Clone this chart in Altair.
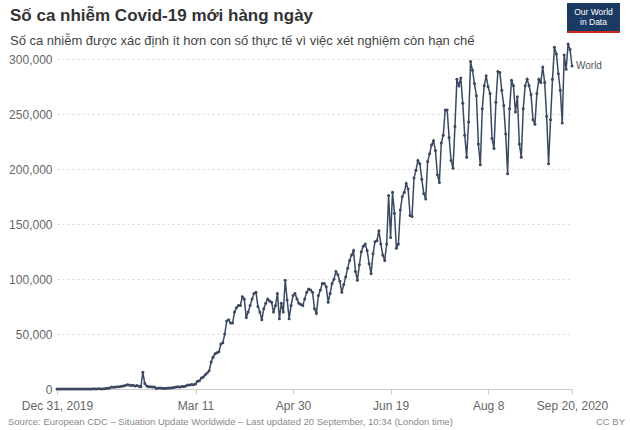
import altair as alt
import pandas as pd

# ---- data (daily new confirmed COVID-19 cases, World) ----
start_date = "2019-12-31"
cases_dec = [27]
cases_jan = [0, 0, 17, 0, 15, 0, 0, 0, 0, 0, 0, 0, 1, 1, 0, 1, 4, 17, 136, 20,
             153, 142, 97, 266, 453, 673, 797, 1767, 1480, 1755, 2005]
cases_feb = [2100, 2600, 2830, 3240, 3900, 3700, 3180, 3440, 2660, 3100, 2540, 2050,
             15150, 5100, 2650, 2100, 2050, 1900, 1760, 420, 1000, 900, 650, 430,
             600, 860, 830, 1100, 1300]
cases_mar = [1900, 2000, 1900, 2300, 2300, 2800, 3700, 3700, 4000, 3900, 4500, 7000,
             7500, 10000, 11000, 13000, 14500, 16500, 24500, 29000, 32000, 33000,
             34000, 41000, 42000, 50000, 62000, 63000, 60000, 60000, 70000]
cases_apr = [74000, 76000, 76000, 84000, 82000, 65000, 70000, 76000, 82000, 87000,
             88000, 75000, 70000, 63000, 73000, 78000, 82000, 80000, 79000, 70000,
             76000, 87000, 64000, 78000, 70000, 99000, 81000, 64000, 76000, 85000]
cases_may = [87000, 82000, 78000, 77000, 76000, 82000, 88000, 91000, 90000, 88000,
             73000, 69000, 85000, 90000, 96000, 96000, 93000, 79000, 87000, 96000,
             100000, 107000, 104000, 98000, 88000, 95000, 102000, 110000, 117000,
             122000, 126000]
cases_jun = [107000, 99000, 113000, 125000, 130000, 132000, 126000, 114000, 105000,
             123000, 134000, 135000, 144000, 132000, 122000, 117000, 132000, 176000,
             138000, 179000, 160000, 128000, 132000, 163000, 175000, 179000, 187000,
             182000, 158000, 157000]
cases_jul = [192000, 199000, 208000, 205000, 191000, 178000, 173000, 207000, 214000,
             222000, 226000, 217000, 195000, 188000, 224000, 231000, 254000, 254000,
             229000, 208000, 201000, 239000, 282000, 276000, 283000, 260000, 231000,
             211000, 243000, 298000, 290000]
cases_aug = [278000, 267000, 223000, 204000, 255000, 276000, 285000, 275000, 269000,
             228000, 219000, 261000, 289000, 288000, 272000, 258000, 232000, 196000,
             255000, 281000, 276000, 252000, 266000, 223000, 211000, 255000, 276000,
             282000, 276000, 268000, 245000]
cases_sep = [241000, 269000, 282000, 279000, 293000, 279000, 248000, 205000, 245000,
             282000, 311000, 305000, 287000, 272000, 242000, 304000, 291000, 314000,
             309000, 294000]

tick_days = [0, 71, 121, 171, 221, 264]
tick_labels = ["Dec 31, 2019", "Mar 11", "Apr 30", "Jun 19", "Aug 8", "Sep 20, 2020"]
y_ticks = [0, 50000, 100000, 150000, 200000, 250000, 300000]
series_name = "World"

title_text = "Số ca nhiễm Covid-19 mới hàng ngày"
subtitle_text = "Số ca nhiễm được xác định ít hơn con số thực tế vì việc xét nghiệm còn hạn chế"
source_text = ("Source: European CDC – Situation Update Worldwide – "
               "Last updated 20 September, 10:34 (London time)")
license_text = "CC BY"

values = (cases_dec + cases_jan + cases_feb + cases_mar + cases_apr + cases_may
          + cases_jun + cases_jul + cases_aug + cases_sep)
df = pd.DataFrame({"day": list(range(len(values))), "cases": values})
df["date"] = pd.date_range(start_date, periods=len(values)).strftime("%Y-%m-%d")
df["entity"] = series_name
last_day = len(values) - 1

label_expr = " : ".join(
    f"datum.value == {d} ? '{l}'" for d, l in zip(tick_days, tick_labels)
) + " : ''"

FONT = "Liberation Sans"
LINE = "#3a4960"

x_enc = alt.X(
    "day:Q",
    scale=alt.Scale(domain=[0, last_day], nice=False, zero=False),
    axis=alt.Axis(values=tick_days, labelExpr=label_expr, title=None, grid=False,
                  domain=True, domainColor="#cccccc", ticks=True, tickColor="#cccccc",
                  tickSize=5, labelPadding=6, labelFontSize=12, labelColor="#666666",
                  labelFont=FONT, labelFlush=False, labelOverlap=False),
)
y_enc = alt.Y(
    "cases:Q",
    scale=alt.Scale(domain=[0, 314000], nice=False),
    axis=alt.Axis(values=y_ticks, format=",.0f", title=None, grid=True,
                  gridDash=[2, 3], gridColor="#d6d6d6", domain=False, ticks=False,
                  labelPadding=5, labelFontSize=12, labelColor="#666666",
                  labelFont=FONT),
)

base = alt.Chart(df)
line = base.mark_line(
    color=LINE, strokeWidth=1.5,
    point=alt.OverlayMarkDef(filled=True, size=9, color=LINE),
).encode(x=x_enc, y=y_enc)

end_label = base.transform_filter(f"datum.day == {last_day}").mark_text(
    align="left", baseline="middle", dx=4, fontSize=10, font=FONT, color="#555555"
).encode(x="day:Q", y="cases:Q", text="entity:N")


def text_layer(txt, x, y, **kw):
    return alt.Chart(pd.DataFrame({"t": [txt]})).mark_text(font=FONT, **kw).encode(
        text="t:N", x=alt.value(x), y=alt.value(y))


title = text_layer(title_text, -47, -23, align="left", baseline="alphabetic",
                   fontSize=17, fontWeight="bold", color="#333333")
subtitle = text_layer(subtitle_text, -47, 1, align="left", baseline="alphabetic",
                      fontSize=13, color="#444444")
source = text_layer(source_text, -49, 381, align="left", baseline="alphabetic",
                    fontSize=9.5, color="#8a8a8a")
lic = text_layer(license_text, 568, 381, align="right", baseline="alphabetic",
                 fontSize=9.5, color="#8a8a8a")

one = pd.DataFrame({"k": [1]})
logo_box = alt.Chart(one).mark_rect(color="#1b3a63").encode(
    x=alt.value(510), x2=alt.value(563), y=alt.value(-41), y2=alt.value(-13))
logo_red = alt.Chart(one).mark_rect(color="#c8281e").encode(
    x=alt.value(510), x2=alt.value(563), y=alt.value(-13), y2=alt.value(-11))
logo_t1 = text_layer("Our World", 536.5, -29, align="center", baseline="alphabetic",
                     fontSize=8.5, color="white")
logo_t2 = text_layer("in Data", 536.5, -19, align="center", baseline="alphabetic",
                     fontSize=8.5, color="white")

chart = alt.layer(
    line, end_label, title, subtitle, source, lic, logo_box, logo_red, logo_t1, logo_t2
).properties(
    width=515, height=345,
    autosize=alt.AutoSizeParams(type="none"),
    padding={"left": 57, "top": 44, "right": 58, "bottom": 41},
    background="white",
).configure_view(stroke=None)

chart.save("out.html", embed_options={"renderer": "svg", "actions": False})
